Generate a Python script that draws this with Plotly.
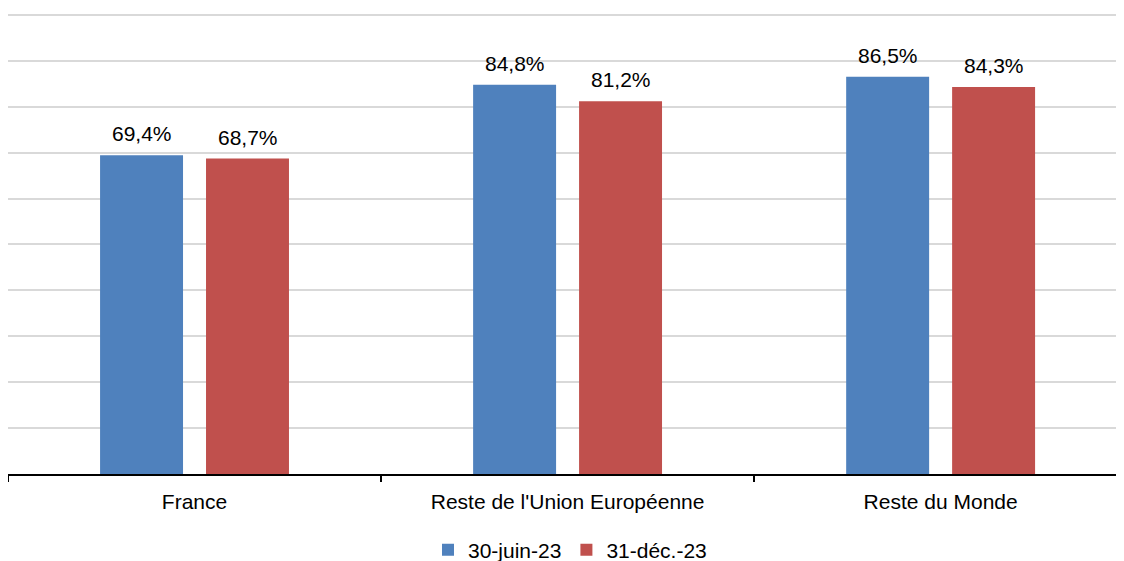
"""Répartition géographique — barres groupées par zone, deux dates."""

import plotly.graph_objects as go

categories = ["France", "Reste de l'Union Européenne", "Reste du Monde"]
series_names = ["30-juin-23", "31-déc.-23"]
values_jun = [69.4, 84.8, 86.5]
values_dec = [68.7, 81.2, 84.3]

colors = ["#4f81bd", "#c0504d"]
FONT = "Liberation Sans, Arial, sans-serif"


def fmt(v):
    return f"{v:.1f}".replace(".", ",") + "%"


fig = go.Figure()
for name, vals, col in zip(series_names, [values_jun, values_dec], colors):
    fig.add_trace(go.Bar(
        x=categories,
        y=vals,
        name=name,
        marker=dict(color=col, line=dict(width=0)),
        hoverinfo="skip",
    ))

# étiquettes de données au-dessus des barres
for i, vals in enumerate([values_jun, values_dec]):
    shift = -53 if i == 0 else 53
    for cat, v in zip(categories, vals):
        fig.add_annotation(
            x=cat, y=v, text=fmt(v), showarrow=False,
            xshift=shift, yshift=8, yanchor="bottom",
            font=dict(family=FONT, size=21, color="#000000"),
        )

# la page ajoute 8 px de marge au body ; la zone de tracé déborde à droite
fig.update_layout(
    width=1124,
    height=553,
    margin=dict(l=0, r=0, t=5, b=87, autoexpand=False),
    paper_bgcolor="white",
    plot_bgcolor="white",
    barmode="group",
    bargap=0.432,
    bargroupgap=0.217,
    font=dict(family=FONT, size=21, color="#000000"),
    showlegend=True,
    legend=dict(
        orientation="h", x=0.5, xanchor="center", y=-0.165, yanchor="middle",
        font=dict(size=21), traceorder="normal",
    ),
    xaxis=dict(
        range=[-0.5, 2.513],
        showline=True, linecolor="#000000", linewidth=1.5,
        ticks="outside", tickson="boundaries", ticklen=6, tickcolor="#000000",
        tickwidth=1.5, showgrid=False, tickfont=dict(size=21),
        ticklabelstandoff=8,
    ),
    yaxis=dict(
        range=[0, 100.4], dtick=10, showticklabels=False,
        showgrid=True, gridcolor="#d9d9d9", gridwidth=1.5,
        zeroline=False, showline=False,
    ),
)

fig.write_html("out.html")
